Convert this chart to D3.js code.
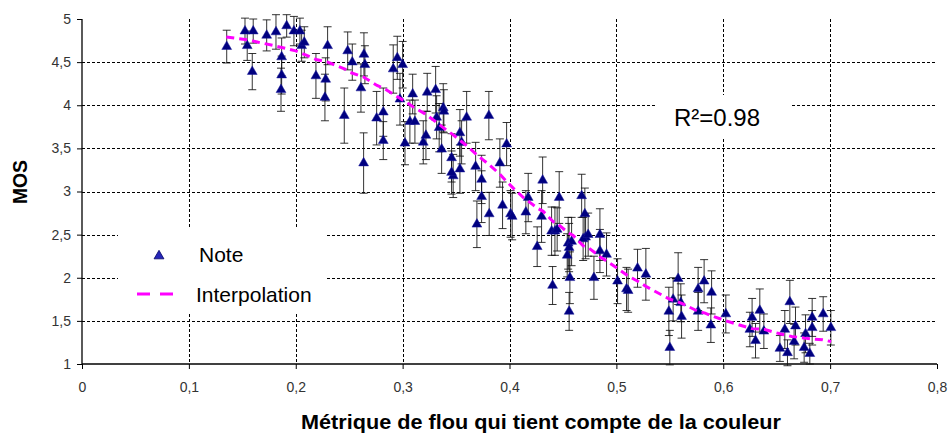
<!DOCTYPE html>
<html>
<head>
<meta charset="utf-8">
<script src="https://cdn.jsdelivr.net/npm/d3@7"></script>
<style>
  html, body { margin: 0; padding: 0; background: #fff; }
  svg { display: block; }
  text { font-family: Arial, "Liberation Sans", sans-serif; }
</style>
</head>
<body>
<svg id="chart" width="950" height="437"></svg>
<script>
// ---------- DATA ----------
const noteX = [
  0.1354, 0.1525, 0.1546, 0.1602, 0.1593, 0.1728, 0.1815, 0.1868, 0.1868, 0.1862,
  0.1915, 0.1983, 0.2039, 0.2055, 0.2080, 0.2189, 0.2298, 0.2280, 0.2273, 0.2486,
  0.2529, 0.2454, 0.2638, 0.2647, 0.2610, 0.2635, 0.2757, 0.2819, 0.2819, 0.2912,
  0.2950, 0.3000, 0.2975, 0.3022, 0.3068, 0.3094, 0.3115, 0.3193, 0.3218, 0.3230,
  0.3309, 0.3318, 0.3342, 0.3365, 0.3380, 0.3386, 0.3458, 0.3473, 0.3458, 0.3536,
  0.3552, 0.3536, 0.3599, 0.3683, 0.3739, 0.3739, 0.3807, 0.3910, 0.3973, 0.4175,
  0.4310, 0.4465, 0.4675, 0.3695, 0.3810, 0.3935, 0.4010, 0.4025, 0.4153, 0.4259,
  0.4300, 0.4394, 0.4403, 0.4425, 0.4446, 0.4549, 0.4540, 0.4565, 0.4558, 0.4581,
  0.4558, 0.4705, 0.4712, 0.4689, 0.4736, 0.4790, 0.4846, 0.4846, 0.4908, 0.5011,
  0.5095, 0.5110, 0.5198, 0.5276, 0.5500, 0.5491, 0.5531, 0.5578, 0.5603, 0.5610,
  0.5765, 0.5765, 0.5821, 0.5891, 0.5884, 0.6024, 0.6270, 0.6249, 0.6302, 0.6342,
  0.6380, 0.6530, 0.6576, 0.6601, 0.6623, 0.6663, 0.6676, 0.6757, 0.6770, 0.6810,
  0.6832, 0.6832, 0.6935, 0.7007
];
const noteY = [
  4.68, 4.86, 4.69, 4.86, 4.39, 4.81, 4.85, 4.56, 4.35, 4.18,
  4.92, 4.86, 4.86, 4.69, 4.73, 4.34, 4.69, 4.30, 4.09, 4.63,
  4.50, 3.88, 4.59, 4.47, 4.20, 3.33, 3.85, 3.92, 3.59, 4.42,
  4.55, 4.47, 4.07, 3.56, 3.81, 4.13, 3.81, 3.57, 3.65, 4.15,
  4.18, 3.86, 3.74, 3.49, 3.97, 3.93, 3.39, 3.18, 3.22, 3.68,
  3.57, 3.26, 3.86, 3.29, 3.14, 2.94, 3.88, 3.33, 3.55, 2.93,
  3.13, 2.93, 2.95, 2.62, 2.74, 2.84, 2.74, 2.71, 2.76, 2.36,
  2.71, 2.54, 1.91, 2.54, 2.56, 2.40, 2.26, 2.00, 1.61, 2.42,
  2.35, 2.74, 2.47, 2.45, 2.50, 2.00, 2.50, 2.31, 2.27, 1.96,
  1.87, 1.85, 2.11, 2.04, 1.19, 1.61, 1.75, 1.99, 1.71, 1.55,
  1.87, 1.61, 1.96, 1.83, 1.45, 1.58, 1.54, 1.40, 1.27, 1.62,
  1.38, 1.18, 1.40, 1.13, 1.72, 1.26, 1.44, 1.19, 1.35, 1.12,
  1.42, 1.54, 1.58, 1.42
];
const noteErr = [
  0.19, 0.15, 0.17, 0.14, 0.21, 0.18, 0.20, 0.22, 0.22, 0.25,
  0.13, 0.17, 0.15, 0.18, 0.18, 0.26, 0.22, 0.25, 0.27, 0.22,
  0.21, 0.32, 0.25, 0.22, 0.28, 0.35, 0.31, 0.28, 0.22, 0.28,
  0.25, 0.27, 0.30, 0.25, 0.25, 0.23, 0.25, 0.25, 0.28, 0.22,
  0.27, 0.25, 0.28, 0.28, 0.28, 0.25, 0.28, 0.25, 0.25, 0.27,
  0.25, 0.28, 0.30, 0.28, 0.28, 0.30, 0.28, 0.28, 0.25, 0.28,
  0.27, 0.30, 0.25, 0.27, 0.25, 0.27, 0.27, 0.27, 0.25, 0.23,
  0.30, 0.28, 0.22, 0.28, 0.25, 0.30, 0.25, 0.30, 0.22, 0.28,
  0.28, 0.30, 0.25, 0.25, 0.25, 0.25, 0.30, 0.25, 0.25, 0.26,
  0.25, 0.25, 0.22, 0.30, 0.20, 0.28, 0.25, 0.30, 0.22, 0.25,
  0.25, 0.22, 0.25, 0.25, 0.20, 0.22, 0.22, 0.20, 0.20, 0.25,
  0.20, 0.15, 0.22, 0.15, 0.25, 0.20, 0.22, 0.17, 0.22, 0.12,
  0.20, 0.22, 0.20, 0.20
];
const interpX = [
  0.135, 0.155, 0.165, 0.180, 0.190, 0.200, 0.208, 0.219, 0.230, 0.246,
  0.251, 0.263, 0.276, 0.282, 0.291, 0.2975, 0.304, 0.310, 0.321, 0.332,
  0.338, 0.347, 0.355, 0.360, 0.369, 0.375, 0.381, 0.391, 0.394, 0.397,
  0.4035, 0.413, 0.427, 0.4315, 0.441, 0.4456, 0.455, 0.4596, 0.469, 0.4736,
  0.480, 0.486, 0.489, 0.502, 0.511, 0.520, 0.5276, 0.550, 0.556, 0.5616,
  0.5765, 0.583, 0.589, 0.6025, 0.6265, 0.639, 0.653, 0.664, 0.676, 0.684,
  0.693, 0.701
];
const interpY = [
  4.79, 4.76, 4.73, 4.69, 4.66, 4.63, 4.59, 4.53, 4.50, 4.42,
  4.38, 4.33, 4.23, 4.20, 4.13, 4.08, 4.03, 3.98, 3.90, 3.80,
  3.74, 3.66, 3.58, 3.53, 3.43, 3.37, 3.31, 3.20, 3.16, 3.12,
  3.04, 2.93, 2.80, 2.77, 2.65, 2.62, 2.52, 2.49, 2.37, 2.35,
  2.29, 2.23, 2.21, 2.10, 2.02, 1.96, 1.90, 1.75, 1.73, 1.70,
  1.61, 1.59, 1.56, 1.50, 1.41, 1.40, 1.35, 1.32, 1.30, 1.29,
  1.28, 1.26
];
const xTicks = [0, 0.1, 0.2, 0.3, 0.4, 0.5, 0.6, 0.7, 0.8];
const yTicks = [1, 1.5, 2, 2.5, 3, 3.5, 4, 4.5, 5];
const seriesNames = ["Note", "Interpolation"];
const xTitle = "Métrique de flou qui tient compte de la couleur";
const yTitle = "MOS";
const r2Label = "R²=0.98";

// ---------- LAYOUT ----------
const svg = d3.select("#chart");
const mLeft = 82, mRight = 937, mTop = 19, mBottom = 364;
const x = d3.scaleLinear().domain([0, 0.8]).range([mLeft, mRight]);
const y = d3.scaleLinear().domain([1, 5]).range([mBottom, mTop]);
const fmt = d => String(d).replace(".", ",");

// gridlines
const grid = svg.append("g").attr("stroke", "#000").attr("stroke-width", 1)
  .attr("stroke-dasharray", "3,2").attr("shape-rendering", "crispEdges");
grid.selectAll("line.h").data(yTicks.filter(t => t > 1 && t < 5)).join("line")
  .attr("class", "h")
  .attr("x1", mLeft).attr("x2", mRight)
  .attr("y1", d => Math.round(y(d)) + 0.5).attr("y2", d => Math.round(y(d)) + 0.5);
grid.selectAll("line.v").data(xTicks.filter(t => t > 0 && t < 0.8)).join("line")
  .attr("class", "v")
  .attr("x1", d => Math.round(x(d)) + 0.5).attr("x2", d => Math.round(x(d)) + 0.5)
  .attr("y1", mTop).attr("y2", mBottom);

// white boxes behind legend and R² label
svg.append("rect").attr("x", 118).attr("y", 229).attr("width", 207).attr("height", 83).attr("fill", "#fff");
svg.append("rect").attr("x", 657).attr("y", 95).attr("width", 133).attr("height", 43).attr("fill", "#fff");

// axes
const xAxis = d3.axisBottom(x).tickValues(xTicks).tickFormat(fmt).tickSize(5).tickPadding(13);
const yAxis = d3.axisLeft(y).tickValues(yTicks).tickFormat(fmt).tickSize(5).tickPadding(6);
const gx = svg.append("g").attr("transform", `translate(0,${mBottom})`).call(xAxis);
const gy = svg.append("g").attr("transform", `translate(${mLeft},0)`).call(yAxis);
[gx, gy].forEach(g => {
  g.select(".domain").attr("stroke", "#000").attr("stroke-width", 1.3);
  g.selectAll(".tick line").attr("stroke", "#000");
  g.selectAll(".tick text").attr("fill", "#333").attr("font-size", 14)
    .attr("font-family", "Arial, 'Liberation Sans', sans-serif");
});
gx.select(".domain").attr("d", `M${mLeft},0H${mRight}`);
gy.select(".domain").attr("d", `M0,${mBottom}V${mTop}`);

// error bars
const pts = noteX.map((v, i) => ({ x: v, y: noteY[i], e: noteErr[i] }));
const eb = svg.append("g").attr("stroke", "#111").attr("stroke-width", 1).attr("stroke-opacity", 0.85);
pts.forEach(p => {
  const cx = x(p.x), y1 = y(p.y + p.e), y2 = y(p.y - p.e);
  eb.append("line").attr("x1", cx).attr("x2", cx).attr("y1", y1).attr("y2", y2);
  eb.append("line").attr("x1", cx - 4).attr("x2", cx + 4).attr("y1", y1).attr("y2", y1);
  eb.append("line").attr("x1", cx - 4).attr("x2", cx + 4).attr("y1", y2).attr("y2", y2);
});

// triangles
const tri = d3.symbol().type(d3.symbolTriangle).size(42);
svg.append("g").selectAll("path").data(pts).join("path")
  .attr("d", tri)
  .attr("transform", d => `translate(${x(d.x)},${y(d.y)})`)
  .attr("fill", "#000080").attr("stroke", "#1a1a9a").attr("stroke-width", 0.5);

// interpolation
const ip = interpX.map((v, i) => [v, interpY[i]]);
svg.append("path").datum(ip)
  .attr("d", d3.line().x(d => x(d[0])).y(d => y(d[1])))
  .attr("fill", "none").attr("stroke", "#ff00ff").attr("stroke-width", 3)
  .attr("stroke-dasharray", "8,5");

// legend
svg.append("path").attr("d", tri).attr("transform", "translate(159,256)")
  .attr("fill", "#2626b8").attr("stroke", "#000066").attr("stroke-width", 0.8);
svg.append("text").attr("x", 199).attr("y", 262).attr("font-size", 21).attr("fill", "#000").text(seriesNames[0]);
svg.append("line").attr("x1", 137).attr("x2", 174).attr("y1", 294).attr("y2", 294)
  .attr("stroke", "#ff00ff").attr("stroke-width", 3).attr("stroke-dasharray", "13,10");
svg.append("text").attr("x", 196).attr("y", 302).attr("font-size", 21).attr("fill", "#000").text(seriesNames[1]);

// R² label
svg.append("text").attr("x", 674).attr("y", 126).attr("font-size", 24).attr("fill", "#000").text(r2Label);

// axis titles
svg.append("text").attr("x", 541).attr("y", 429).attr("text-anchor", "middle")
  .attr("font-size", 19.5).attr("font-weight", "bold").attr("fill", "#000")
  .attr("textLength", 480).attr("lengthAdjust", "spacingAndGlyphs").text(xTitle);
svg.append("text").attr("transform", "translate(27,182) rotate(-90)").attr("text-anchor", "middle")
  .attr("font-size", 20).attr("font-weight", "bold").attr("fill", "#000")
  .attr("textLength", 44).attr("lengthAdjust", "spacingAndGlyphs").text(yTitle);
</script>
</body>
</html>
